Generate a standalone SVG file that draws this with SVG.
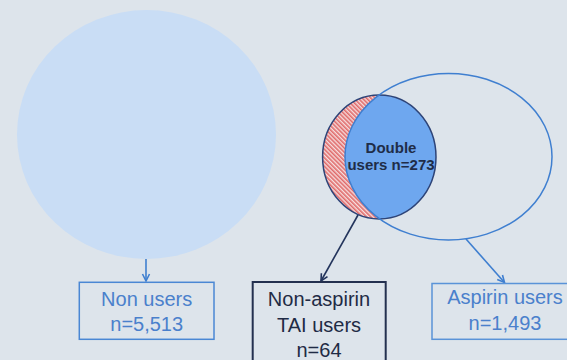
<svg xmlns="http://www.w3.org/2000/svg" width="567" height="360" viewBox="0 0 567 360">
<defs>
<style>
.t{font-family:"Liberation Sans",Arial,sans-serif;font-size:20px;text-anchor:middle}
.lt{fill:#4a80cc}
.dk{fill:#1f2b45}
.b{font-weight:bold;font-size:15px;fill:#1f2d48}
.con{fill:none;stroke-width:1.6}
</style>
<pattern id="hatch" width="3" height="3" patternUnits="userSpaceOnUse" patternTransform="rotate(-45)">
<rect width="3" height="3" fill="#f6dede"/>
<rect width="1.6" height="3" fill="#e06a6a"/>
</pattern>
<clipPath id="small"><ellipse cx="379.3" cy="157" rx="56.7" ry="62"/></clipPath>
<marker id="ab" markerWidth="10" markerHeight="10" refX="8" refY="5" orient="auto" markerUnits="userSpaceOnUse">
<path d="M1,1.5 L8,5 L1,8.5" fill="none" stroke="#3f7fd0" stroke-width="1.6"/>
</marker>
<marker id="ad" markerWidth="10" markerHeight="10" refX="8" refY="5" orient="auto" markerUnits="userSpaceOnUse">
<path d="M1,1.5 L8,5 L1,8.5" fill="none" stroke="#23345c" stroke-width="1.6"/>
</marker>
</defs>
<rect width="567" height="360" fill="#dde4eb"/>
<g id="non-users-circle">
<ellipse cx="146.5" cy="134.5" rx="129.5" ry="124.5" fill="#c9ddf5"/>
</g>
<g id="venn">
<ellipse cx="379.3" cy="157" rx="56.7" ry="62" fill="url(#hatch)"/>
<ellipse cx="448.5" cy="156.7" rx="103.5" ry="83.3" fill="#6ea7ef" clip-path="url(#small)"/>
<ellipse cx="379.3" cy="157" rx="56.7" ry="62" fill="none" stroke="#2d4478" stroke-width="1.5"/>
<ellipse cx="448.5" cy="156.7" rx="103.5" ry="83.3" fill="none" stroke="#3f7fd0" stroke-width="1.5"/>
<text class="t b" x="391" y="153.3">Double</text>
<text class="t b" x="391" y="170">users n=273</text>
</g>
<g id="connectors">
<line class="con" x1="146" y1="259" x2="146" y2="281" stroke="#3f7fd0" marker-end="url(#ab)"/>
<line class="con" x1="358" y1="215" x2="321" y2="281" stroke="#23345c" marker-end="url(#ad)"/>
<line class="con" x1="466" y1="239" x2="504.5" y2="282.5" stroke="#3f7fd0" marker-end="url(#ab)"/>
</g>
<g id="non-users">
<rect x="79.3" y="282.3" width="134.7" height="57" fill="none" stroke="#4a87d4" stroke-width="1.5"/>
<text class="t lt" x="146.7" y="305.7">Non users</text>
<text class="t lt" x="146.7" y="330.7">n=5,513</text>
</g>
<g id="non-aspirin">
<rect x="252.7" y="282" width="133" height="90" fill="none" stroke="#23304f" stroke-width="2"/>
<text class="t dk" x="319" y="306">Non-aspirin</text>
<text class="t dk" x="319" y="331.5">TAI users</text>
<text class="t dk" x="319" y="357">n=64</text>
</g>
<g id="aspirin">
<rect x="432" y="283.5" width="148" height="55.8" fill="none" stroke="#5a93d8" stroke-width="1.5"/>
<text class="t lt" x="505" y="304.3">Aspirin users</text>
<text class="t lt" x="505" y="330">n=1,493</text>
</g>
</svg>
